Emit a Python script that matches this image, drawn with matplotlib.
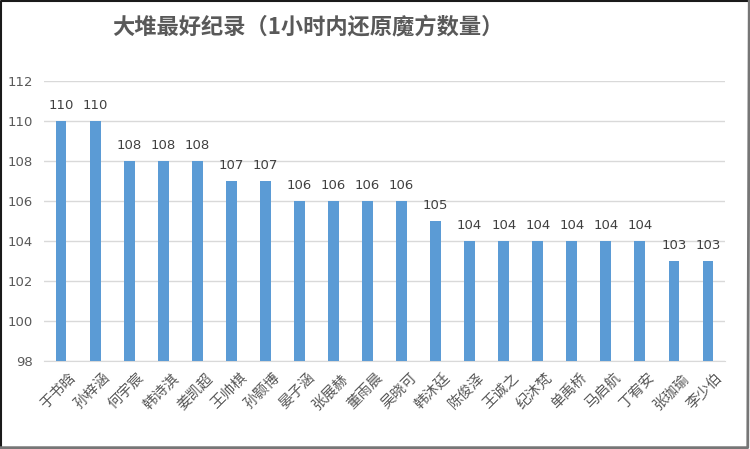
import matplotlib.pyplot as plt
import matplotlib.transforms as mtransforms
from matplotlib.lines import Line2D

plt.rcParams['font.family'] = ['Noto Sans CJK SC', 'DejaVu Sans']

names = ["于书晗", "孙梓涵", "何宇宸", "韩诗淇", "姜凯超", "王帅棋", "孙颢博", "晏子涵",
         "张展赫", "董雨晨", "吴晓可", "韩沐廷", "陈俊泽", "王诚之", "纪沐梵", "单禹桥",
         "马启航", "丁宥安", "张珈瑜", "李少伯"]
scores = [110, 110, 108, 108, 108, 107, 107, 106, 106, 106, 106, 105,
          104, 104, 104, 104, 104, 104, 103, 103]
y_ticks = [98, 100, 102, 104, 106, 108, 110, 112]
title = "大堆最好纪录（1小时内还原魔方数量）"

fig = plt.figure(figsize=(7.5, 4.49), dpi=100)
ax = fig.add_axes([0.0587, 0.196, 0.908, 0.624])

x = range(len(names))
ax.bar(x, [s - 98 for s in scores], bottom=98, width=0.32, color="#5b9bd5", zorder=3)

for xi, s in zip(x, scores):
    ax.text(xi, s + 0.45, str(s), ha="center", va="bottom", fontsize=9.5, color="#404040",
            family=["DejaVu Sans"])

ax.set_xlim(-0.5, len(names) - 0.5)
ax.set_ylim(98, 112)
ax.set_yticks(y_ticks)
ax.set_yticklabels([str(t) for t in y_ticks], fontsize=9.5, color="#595959", family=["DejaVu Sans"])
ax.yaxis.grid(True, color="#d9d9d9", linewidth=1, zorder=0)
ax.set_xticks(list(x))
ax.set_xticklabels(names, rotation=45, ha="right", rotation_mode="anchor",
                   fontsize=10.5, color="#595959")
ax.tick_params(axis="both", length=0)
ax.tick_params(axis="x", pad=7)
ax.tick_params(axis="y", pad=8)
shift = mtransforms.ScaledTranslation(8 / 100, 0, fig.dpi_scale_trans)
for lbl in ax.get_xticklabels():
    lbl.set_transform(lbl.get_transform() + shift)
for side in ["top", "right", "left"]:
    ax.spines[side].set_visible(False)
ax.spines["bottom"].set_color("#d9d9d9")

fig.text(0.41, 0.94, title, ha="center", va="center", fontsize=16, fontweight="bold", color="#595959")

# frame: dark on top/left, grey on right/bottom
fig.lines.append(Line2D([0.001, 0.001, 0.999], [0.002, 0.998, 0.998], transform=fig.transFigure,
                        color="#1a1a1a", linewidth=1.5))
fig.lines.append(Line2D([0.999, 0.997, 0.001], [0.998, 0.003, 0.003], transform=fig.transFigure,
                        color="#767676", linewidth=2))

fig.savefig("out.png", dpi=100)
